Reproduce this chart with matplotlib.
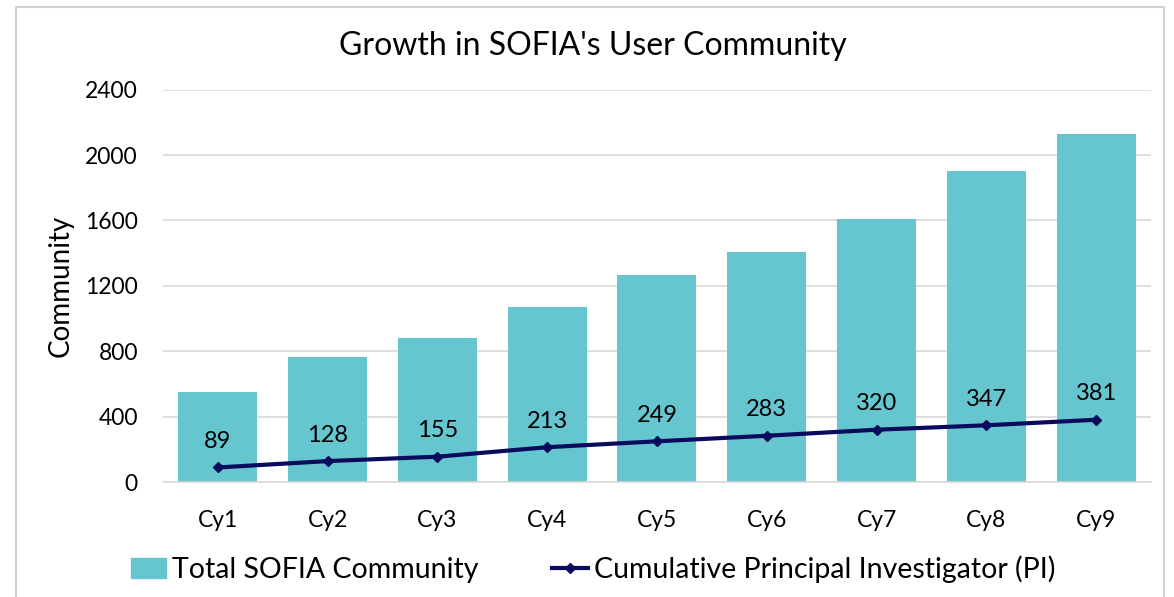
import matplotlib
matplotlib.use("Agg")
import matplotlib.pyplot as plt
from matplotlib.lines import Line2D
from matplotlib.patches import Patch

cycles = ["Cy1", "Cy2", "Cy3", "Cy4", "Cy5", "Cy6", "Cy7", "Cy8", "Cy9"]
total_community = [550, 765, 880, 1070, 1265, 1410, 1610, 1905, 2130]
cumulative_pi = [89, 128, 155, 213, 249, 283, 320, 347, 381]
yticks = [0, 400, 800, 1200, 1600, 2000, 2400]

BAR = "#66C6D0"
LINE = "#0B0B5E"
GRID = "#D9D9D9"

plt.rcParams["font.family"] = ["Lato", "DejaVu Sans"]

fig = plt.figure(figsize=(11.74, 5.97), dpi=100)
ax = fig.add_axes([0.1388, 0.1926, 0.8416, 0.6571])

x = range(len(cycles))
ax.bar(x, total_community, width=0.72, color=BAR, zorder=2)
ax.plot(x, cumulative_pi, "-D", color=LINE, lw=3, ms=5, zorder=3)
for xi, v in zip(x, cumulative_pi):
    ax.annotate(str(v), (xi, v), xytext=(0, 11), textcoords="offset points",
                ha="center", va="bottom", fontsize=17, color="black", zorder=4)

ax.set_xlim(-0.5, len(cycles) - 0.5)
ax.set_ylim(0, 2400)
ax.set_yticks(yticks)
ax.set_xticks(list(x))
ax.set_xticklabels(cycles)
ax.tick_params(axis="both", length=0, labelsize=16.5)
ax.tick_params(axis="x", pad=20)
ax.tick_params(axis="y", pad=18)
ax.yaxis.grid(True, color=GRID, lw=1.2, zorder=0)
ax.set_axisbelow(True)
for s in ["top", "right", "left"]:
    ax.spines[s].set_visible(False)
ax.spines["bottom"].set_color(GRID)
ax.spines["bottom"].set_linewidth(1.2)
ax.set_ylabel("Community", fontsize=20, labelpad=8)

fig.suptitle("Growth in SOFIA's User Community", x=0.505, y=0.948, fontsize=23)

handles = [Patch(color=BAR, label="Total SOFIA Community"),
           Line2D([0], [0], color=LINE, lw=3, marker="D", ms=5,
                  label="Cumulative Principal Investigator (PI)")]
fig.legend(handles=handles, loc="lower center", bbox_to_anchor=(0.505, -0.02), ncol=2,
           frameon=False, fontsize=20.5, handlelength=1.25, handletextpad=0.2,
           columnspacing=2.6)

# outer chart frame
fig.add_artist(Line2D([0.0136, 0.0136, 0.9915, 0.9915], [0.0, 0.988, 0.988, 0.0],
                      transform=fig.transFigure, color="#D0D0D0", lw=1.5))

fig.savefig("out.png", dpi=100)
